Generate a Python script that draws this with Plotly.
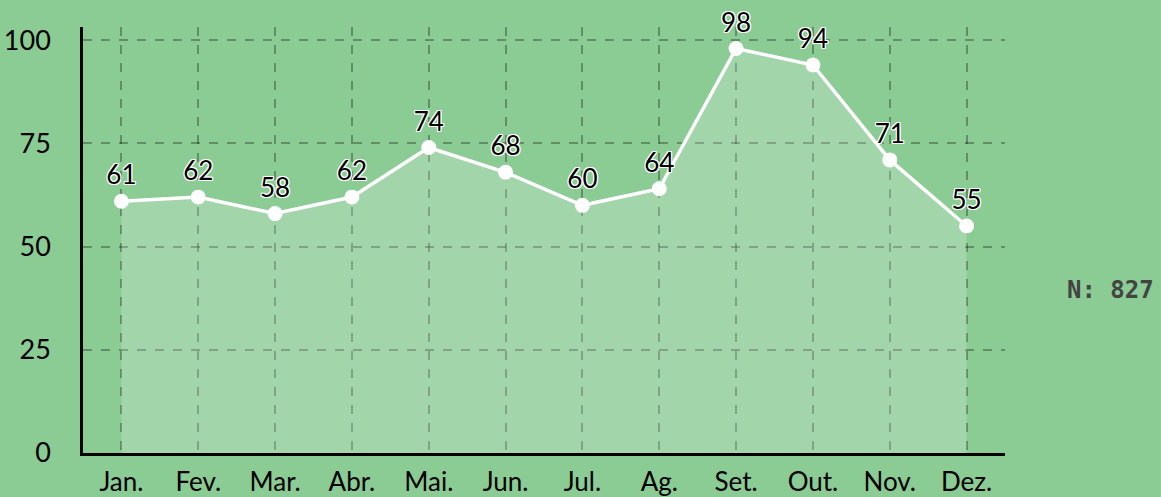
import plotly.graph_objects as go

meses = ['Jan.', 'Fev.', 'Mar.', 'Abr.', 'Mai.', 'Jun.', 'Jul.', 'Ag.', 'Set.', 'Out.', 'Nov.', 'Dez.']
valores = [61, 62, 58, 62, 74, 68, 60, 64, 98, 94, 71, 55]
y_ticks = [0, 25, 50, 75, 100]
total_n = 827

bg = '#8bcb94'
sombra = '1px 1px 0 white, -1px -1px 0 white, 1px -1px 0 white, -1px 1px 0 white, 0 1px 0 white, 0 -1px 0 white, 1px 0 0 white, -1px 0 0 white'

fig = go.Figure(
    go.Scatter(
        x = list(range(len(meses))),
        y = valores,
        mode = 'lines+markers+text',
        text = [str(v) for v in valores],
        textposition = 'top center',
        textfont = dict(
            family = 'Lato, sans-serif',
            size = 26,
            color = 'black',
            shadow = sombra
        ),
        fill = 'tozeroy',
        fillcolor = 'rgba(255, 255, 255, 0.2)',
        line = dict(color = 'white', width = 3.5),
        marker = dict(color = 'white', size = 15),
        cliponaxis = False,
        hoverinfo = 'skip'
    )
)

fig.add_annotation(
    text = f'<b>N: {total_n}</b>',
    xref = 'paper', yref = 'paper',
    x = 1.114, y = 0.383,
    xanchor = 'center', yanchor = 'middle',
    showarrow = False,
    font = dict(family = 'DejaVu Sans Mono, monospace', size = 24, color = '#444444')
)

fig.update_layout(
    template = 'none',
    width = 1161,
    height = 497,
    paper_bgcolor = bg,
    plot_bgcolor = bg,
    showlegend = False,
    margin = dict(l = 83, r = 156, t = 27, b = 44, pad = 0),
    font = dict(family = 'Lato, sans-serif', size = 26, color = 'black'),
    xaxis = dict(
        range = [-0.5, 11.5],
        tickmode = 'array',
        tickvals = list(range(len(meses))),
        ticktext = meses,
        tickfont = dict(size = 26),
        showgrid = True,
        griddash = 'dash',
        gridcolor = 'rgba(0, 0, 0, 0.3)',
        gridwidth = 1.5,
        showline = True,
        linecolor = 'black',
        linewidth = 2.5,
        ticks = 'outside',
        ticklen = 4,
        tickcolor = 'rgba(0,0,0,0)',
        zeroline = False,
        automargin = False,
        fixedrange = True
    ),
    yaxis = dict(
        range = [0, 103.2],
        tickmode = 'array',
        tickvals = y_ticks,
        tickfont = dict(size = 27),
        showgrid = True,
        griddash = 'dash',
        gridcolor = 'rgba(0, 0, 0, 0.3)',
        gridwidth = 1.5,
        showline = True,
        linecolor = 'black',
        linewidth = 2.5,
        ticks = 'outside',
        ticklen = 24,
        tickcolor = 'rgba(0,0,0,0)',
        zeroline = False,
        automargin = False,
        fixedrange = True
    )
)

fig.write_html(
    'out.html',
    config = dict(displayModeBar = False),
    post_script = "document.body.style.margin = '0'; document.body.style.overflow = 'hidden';"
)
